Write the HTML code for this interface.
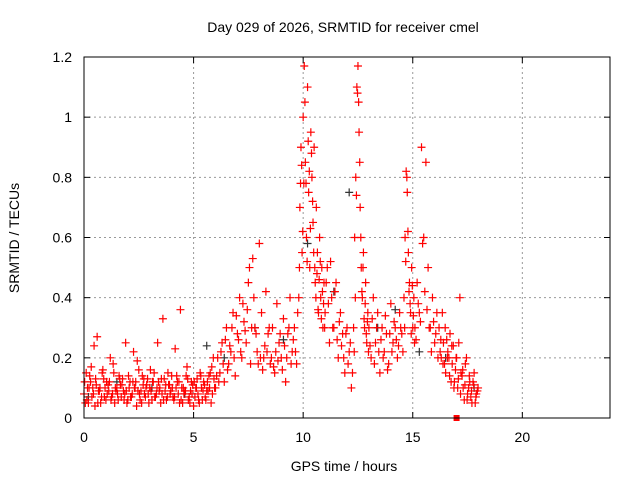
<!DOCTYPE html>
<html><head><meta charset="utf-8"><style>
body{margin:0;background:#fff;}
svg{display:block;font-family:"Liberation Sans",sans-serif;}
</style></head><body>
<svg id="chart" width="640" height="480">
<text x="343" y="32" font-size="14" text-anchor="middle" fill="#000">Day 029 of 2026, SRMTID for receiver cmel</text>
<text x="344" y="471" font-size="14" text-anchor="middle">GPS time / hours</text>
<text transform="translate(19,238) rotate(-90)" font-size="14" text-anchor="middle">SRMTID / TECUs</text>
<g id="grid"></g><g id="ticks"></g><g id="marks"></g>
<rect x="84" y="57" width="526" height="361" fill="none" stroke="#000" stroke-width="1"/>
</svg>
<script>
const xTicks=[0,5,10,15,20];
const yTicks=[0,0.2,0.4,0.6,0.8,1,1.2];
const yTickLabels=["0","0.2","0.4","0.6","0.8","1","1.2"];
// segments: start hour, step hour, values
const segStart=[0,0.03,0.06,6,6.05,9.8,9.83,11,11.05,12.3,12.33,13,13.05,14.6,14.63,15.1,15.15,16.2,16.25,16.28];
const segStep=[0.1,0.1,0.1,0.1,0.1,0.05,0.05,0.1,0.1,0.05,0.05,0.1,0.1,0.05,0.05,0.1,0.1,0.1,0.1,0.1];
const segValues=[
[0.08,0.15,0.05,0.12,0.1,0.04,0.27,0.09,0.07,0.13,0.06,0.11,0.2,0.08,0.05,0.1,0.14,0.07,0.09,0.25,0.06,0.12,0.08,0.1,0.04,0.16,0.09,0.11,0.07,0.13,0.1,0.06,0.15,0.08,0.12,0.05,0.33,0.09,0.07,0.11,0.14,0.06,0.1,0.08,0.36,0.05,0.09,0.17,0.07,0.12,0.04,0.1,0.08,0.15,0.06,0.11,0.09,0.14,0.05,0.2],
[0.12,0.06,0.1,0.17,0.08,0.13,0.05,0.1,0.15,0.07,0.12,0.09,0.06,0.18,0.1,0.08,0.13,0.11,0.06,0.09,0.14,0.07,0.12,0.1,0.19,0.08,0.05,0.13,0.1,0.08,0.16,0.12,0.07,0.1,0.09,0.13,0.06,0.11,0.15,0.08,0.1,0.07,0.14,0.12,0.06,0.1,0.09,0.13,0.05,0.08,0.12,0.1,0.06,0.14,0.09,0.07,0.12,0.1,0.17,0.13],
[0.05,0.1,0.14,0.07,0.24,0.11,0.09,0.05,0.16,0.1,0.08,0.12,0.07,0.15,0.09,0.06,0.11,0.13,0.08,0.05,0.1,0.07,0.22,0.12,0.09,0.06,0.14,0.08,0.11,0.05,0.09,0.12,0.07,0.25,0.1,0.08,0.13,0.06,0.11,0.09,0.07,0.23,0.12,0.05,0.1,0.08,0.14,0.06,0.09,0.11,0.07,0.13,0.05,0.1,0.12,0.06,0.09,0.15,0.08,0.1],
[0.1,0.2,0.15,0.25,0.12,0.3,0.18,0.22,0.35,0.14,0.28,0.4,0.2,0.32,0.25,0.45,0.18,0.53,0.3,0.22,0.58,0.35,0.2,0.42,0.28,0.18,0.3,0.15,0.38,0.25,0.2,0.33,0.12,0.28,0.4,0.22,0.3,0.18],
[0.14,0.12,0.22,0.18,0.26,0.16,0.24,0.3,0.2,0.34,0.26,0.22,0.38,0.29,0.36,0.5,0.3,0.4,0.28,0.18,0.2,0.16,0.24,0.22,0.3,0.2,0.17,0.22,0.19,0.28,0.16,0.24,0.2,0.3,0.18,0.26,0.22,0.35],
[0.4,0.7,0.9,0.55,1.0,1.17,0.85,0.6,1.1,0.75,0.5,0.95,0.8,0.65,0.9,0.45,0.7,0.55,0.35,0.6,0.4,0.5,0.3,0.45],
[0.5,0.78,0.84,0.62,0.78,1.05,0.78,0.52,0.92,0.82,0.63,0.88,0.72,0.55,0.5,0.4,0.48,0.36,0.46,0.52,0.33,0.42,0.38,0.3],
[0.35,0.5,0.25,0.4,0.3,0.45,0.2,0.35,0.28,0.15,0.3,0.22,0.1],
[0.45,0.38,0.52,0.3,0.42,0.26,0.32,0.24,0.2,0.28,0.18,0.25,0.15],
[0.3,0.6,0.8,1.1,1.17,0.95,0.7,0.5,0.4,0.55,0.3,0.45,0.25,0.35],
[0.22,0.4,0.74,1.08,1.05,0.85,0.6,0.42,0.5,0.33,0.38,0.28,0.32,0.22],
[0.3,0.2,0.4,0.25,0.35,0.15,0.3,0.22,0.28,0.18,0.38,0.25,0.3,0.2,0.35,0.28],
[0.24,0.33,0.18,0.3,0.22,0.26,0.2,0.34,0.16,0.28,0.22,0.32,0.26,0.24,0.3,0.22],
[0.4,0.6,0.82,0.75,0.55,0.45,0.35,0.5,0.3,0.4],
[0.3,0.52,0.8,0.62,0.42,0.38,0.28,0.44,0.34,0.25],
[0.3,0.45,0.35,0.9,0.6,0.85,0.5,0.3,0.4,0.25,0.35],
[0.26,0.38,0.32,0.58,0.42,0.36,0.3,0.22,0.32,0.28,0.2],
[0.3,0.2,0.25,0.15,0.22,0.28,0.18,0.12,0.2,0.25,0.15,0.1,0.18,0.08,0.12,0.05,0.15,0.08],
[0.22,0.35,0.18,0.26,0.2,0.12,0.24,0.16,0.1,0.4,0.14,0.06,0.2,0.1,0.07,0.12,0.05,0.09],
[0.26,0.18,0.3,0.2,0.14,0.24,0.1,0.2,0.13,0.08,0.16,0.11,0.06,0.14,0.09,0.11,0.07,0.1]
];
const grayHours=[0.2,1.5,3.1,4.6,5.6,6.4,7.8,9.1,10.2,11.4,12.1,13.4,14.2,15.3,16.5,17.8];
const grayValues=[0.07,0.12,0.1,0.08,0.24,0.2,0.3,0.26,0.58,0.42,0.75,0.3,0.36,0.22,0.2,0.1];
const squareHour=[17];
const squareValue=[0];
const X=h=>84+h*526/24, Y=v=>418-v*361/1.2;
const NS="http://www.w3.org/2000/svg";
const grid=document.getElementById('grid'),ticks=document.getElementById('ticks'),marks=document.getElementById('marks');
function mk(t,a){const e=document.createElementNS(NS,t);for(const k in a)e.setAttribute(k,a[k]);return e;}
xTicks.forEach(h=>{const x=X(h);
 if(h>0){const l=mk('line',{x1:x,y1:57,x2:x,y2:418,stroke:'#999','stroke-dasharray':'2,3'});
 
 grid.appendChild(l);}
 const t=mk('text',{x:x,y:442,'font-size':14,'text-anchor':'middle'});t.textContent=h;
 
 ticks.appendChild(t);
 ticks.appendChild(mk('line',{x1:x,y1:418,x2:x,y2:412,stroke:'#000'}));
 ticks.appendChild(mk('line',{x1:x,y1:57,x2:x,y2:63,stroke:'#000'}));
});
yTicks.forEach((v,i)=>{const y=Y(v);
 if(v>0&&v<1.2){const l=mk('line',{x1:84,y1:y,x2:610,y2:y,stroke:'#999','stroke-dasharray':'2,3'});
 
 grid.appendChild(l);}
 const t=mk('text',{x:72,y:y+5,'font-size':14,'text-anchor':'end'});t.textContent=yTickLabels[i];
 
 ticks.appendChild(t);
 ticks.appendChild(mk('line',{x1:84,y1:y,x2:90,y2:y,stroke:'#000'}));
 ticks.appendChild(mk('line',{x1:610,y1:y,x2:604,y2:y,stroke:'#000'}));
});
function plus(h,v,c,name){const x=X(h),y=Y(v);
 const p=mk('path',{d:`M${x-4} ${y}H${x+4}M${x} ${y-4}V${y+4}`,stroke:c,'stroke-width':1.2,fill:'none'});
 
 marks.appendChild(p);}
grayHours.forEach((h,i)=>plus(h,grayValues[i],'#333','gray-point'));
segValues.forEach((vals,s)=>vals.forEach((v,i)=>plus(segStart[s]+i*segStep[s],v,'#f00','red-point')));
squareHour.forEach((h,i)=>{const r=mk('rect',{x:X(h)-3,y:Y(squareValue[i])-3,width:6,height:6,fill:'#f00'});
 
 marks.appendChild(r);});
</script>
</body></html>
